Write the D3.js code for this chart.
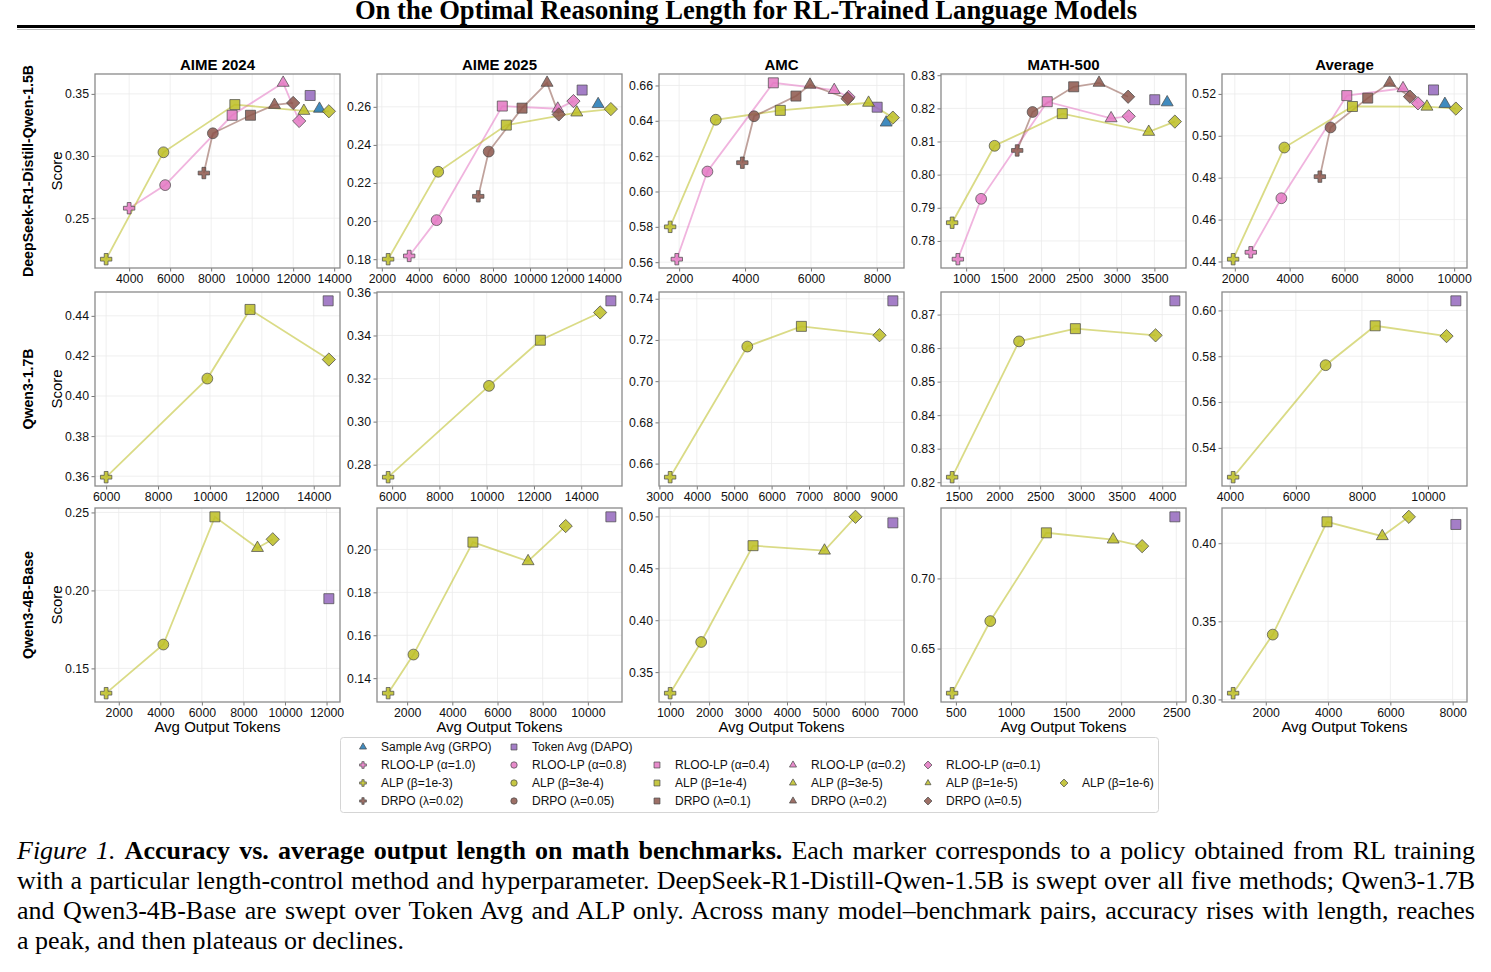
<!DOCTYPE html>
<html>
<head>
<meta charset="utf-8">
<script src="https://cdn.jsdelivr.net/npm/d3@7"></script>
<style>
body { margin: 0; background: #fff; }
#chart { position: absolute; left: 0; top: 0; }
#cap { position: absolute; left: 17px; top: 836px; width: 1458px;
  font-family: "Liberation Serif", "Times New Roman", serif; font-size: 26px; line-height: 30px; color: #000; }
#cap div { white-space: nowrap; }
</style>
</head>
<body>
<svg id="chart" width="1491" height="972"></svg>
<div id="cap">
  <div><span class="ln"><i>Figure 1.</i> <b>Accuracy vs. average output length on math benchmarks.</b> Each marker corresponds to a policy obtained from RL training</span></div>
  <div><span class="ln">with a particular length-control method and hyperparameter. DeepSeek-R1-Distill-Qwen-1.5B is swept over all five methods; Qwen3-1.7B</span></div>
  <div><span class="ln">and Qwen3-4B-Base are swept over Token Avg and ALP only. Across many model–benchmark pairs, accuracy rises with length, reaches</span></div>
  <div><span>a peak, and then plateaus or declines.</span></div>
</div>
<script>
const benchmarks = ["AIME 2024", "AIME 2025", "AMC", "MATH-500", "Average"];
const models = ["DeepSeek-R1-Distill-Qwen-1.5B", "Qwen3-1.7B", "Qwen3-4B-Base"];

// [method, avg output tokens, score]
const ds_aime24 = [["grpo",13283,0.338],["dapo",12829,0.3487],
  ["rloo10",4000,0.258],["rloo08",5756,0.2766],["rloo04",9024,0.3328],["rloo02",11512,0.3589],["rloo01",12293,0.3282],
  ["alp1e3",2878,0.217],["alp3e4",5673,0.303],["alp1e4",9156,0.3414],["alp3e5",12522,0.3363],["alp1e6",13741,0.336],
  ["drpo002",7644,0.2863],["drpo005",8083,0.3183],["drpo01",9918,0.3328],["drpo02",11090,0.3411],["drpo05",12000,0.3427]];
const ds_aime25 = [["grpo",13676,0.2614],["dapo",12811,0.2688],
  ["rloo10",3477,0.1817],["rloo08",4957,0.2005],["rloo04",8503,0.2604],["rloo02",11497,0.259],["rloo01",12342,0.263],
  ["alp1e3",2341,0.18],["alp3e4",5043,0.2259],["alp1e4",8719,0.2504],["alp3e5",12523,0.257],["alp1e6",14362,0.2588],
  ["drpo002",7205,0.213],["drpo005",7768,0.2365],["drpo01",9568,0.2593],["drpo02",10919,0.2726],["drpo05",11551,0.256]];
const ds_amc = [["grpo",8282,0.639],["dapo",8009,0.6477],
  ["rloo10",1929,0.5617],["rloo08",2858,0.6113],["rloo04",4858,0.6615],["rloo02",6706,0.6574],["rloo01",7140,0.6535],
  ["alp1e3",1727,0.58],["alp3e4",3112,0.6406],["alp1e4",5070,0.6459],["alp3e5",7748,0.6502],["alp1e6",8485,0.6418],
  ["drpo002",3918,0.6163],["drpo005",4273,0.6426],["drpo01",5545,0.654],["drpo02",5970,0.6604],["drpo05",7112,0.6525]];
const ds_math = [["grpo",3670,0.8218],["dapo",3505,0.8226],
  ["rloo10",890,0.7745],["rloo08",1199,0.7927],["rloo04",2077,0.822],["rloo02",2925,0.817],["rloo01",3159,0.8176],
  ["alp1e3",814,0.7855],["alp3e4",1378,0.8087],["alp1e4",2277,0.8184],["alp3e5",3425,0.8129],["alp1e6",3772,0.816],
  ["drpo002",1678,0.8073],["drpo005",1882,0.8189],["drpo01",2428,0.8265],["drpo02",2765,0.8277],["drpo05",3151,0.8235]];
const ds_avg = [["grpo",9662,0.5152],["dapo",9247,0.5219],
  ["rloo10",2582,0.4444],["rloo08",3698,0.4702],["rloo04",6084,0.5192],["rloo02",8135,0.5227],["rloo01",8680,0.5155],
  ["alp1e3",1939,0.4411],["alp3e4",3807,0.4944],["alp1e4",6291,0.514],["alp3e5",9007,0.5139],["alp1e6",10062,0.513],
  ["drpo002",5102,0.4805],["drpo005",5491,0.504],["drpo01",6847,0.518],["drpo02",7647,0.5253],["drpo05",8389,0.5187]];

const q17_aime24 = [["dapo",14556,0.4475],["alp1e3",6000,0.3595],["alp3e4",9900,0.4087],["alp1e4",11545,0.4432],["alp1e6",14583,0.4182]];
const q17_aime25 = [["dapo",15254,0.3561],["alp1e3",5830,0.2742],["alp3e4",10097,0.3166],["alp1e4",12271,0.3378],["alp1e6",14800,0.3507]];
const q17_amc = [["dapo",9243,0.739],["alp1e3",3287,0.6534],["alp3e4",5350,0.7168],["alp1e4",6797,0.7266],["alp1e6",8886,0.7223]];
const q17_math = [["dapo",4155,0.8741],["alp1e3",1419,0.8215],["alp3e4",2241,0.862],["alp1e4",2933,0.8658],["alp1e6",3918,0.8638]];
const q17_avg = [["dapo",10846,0.6042],["alp1e3",4100,0.5272],["alp3e4",6901,0.5761],["alp1e4",8402,0.5933],["alp1e6",10563,0.5888]];

const q4_aime24 = [["dapo",12111,0.1947],["alp1e3",1393,0.1341],["alp3e4",4145,0.1653],["alp1e4",6627,0.2472],["alp3e5",8675,0.2272],["alp1e6",9410,0.2328]];
const q4_aime25 = [["dapo",11018,0.2152],["alp1e3",1159,0.133],["alp3e4",2279,0.151],["alp1e4",4912,0.2034],["alp3e5",7354,0.1945],["alp1e6",9018,0.2109]];
const q4_amc = [["dapo",6719,0.4938],["alp1e3",1000,0.3297],["alp3e4",1797,0.379],["alp1e4",3129,0.4718],["alp3e5",4963,0.467],["alp1e6",5760,0.4996]];
const q4_math = [["dapo",2487,0.7439],["alp1e3",466,0.6182],["alp3e4",812,0.6696],["alp1e4",1321,0.7325],["alp3e5",1927,0.7277],["alp1e6",2190,0.723]];
const q4_avg = [["dapo",8103,0.412],["alp1e3",952,0.304],["alp3e4",2224,0.3415],["alp1e4",3965,0.4137],["alp3e5",5740,0.4045],["alp1e6",6593,0.4169]];

// tick values per panel
const ds_xticks = [[4000,6000,8000,10000,12000,14000],[2000,4000,6000,8000,10000,12000,14000],[2000,4000,6000,8000],[1000,1500,2000,2500,3000,3500],[2000,4000,6000,8000,10000]];
const ds_yticks = [[0.25,0.30,0.35],[0.18,0.20,0.22,0.24,0.26],[0.56,0.58,0.60,0.62,0.64,0.66],[0.78,0.79,0.80,0.81,0.82,0.83],[0.44,0.46,0.48,0.50,0.52]];
const q17_xticks = [[6000,8000,10000,12000,14000],[6000,8000,10000,12000,14000],[3000,4000,5000,6000,7000,8000,9000],[1500,2000,2500,3000,3500,4000],[4000,6000,8000,10000]];
const q17_yticks = [[0.36,0.38,0.40,0.42,0.44],[0.28,0.30,0.32,0.34,0.36],[0.66,0.68,0.70,0.72,0.74],[0.82,0.83,0.84,0.85,0.86,0.87],[0.54,0.56,0.58,0.60]];
const q4_xticks = [[2000,4000,6000,8000,10000,12000],[2000,4000,6000,8000,10000],[1000,2000,3000,4000,5000,6000,7000],[500,1000,1500,2000,2500],[2000,4000,6000,8000]];
const q4_yticks = [[0.15,0.20,0.25],[0.14,0.16,0.18,0.20],[0.35,0.40,0.45,0.50],[0.65,0.70],[0.30,0.35,0.40]];

const methods = [
  {key:"grpo", label:"Sample Avg (GRPO)", fam:"grpo", shape:"triangle", color:"#1f77b4", row:0, col:0},
  {key:"dapo", label:"Token Avg (DAPO)", fam:"dapo", shape:"square", color:"#9467bd", row:0, col:1},
  {key:"rloo10", label:"RLOO-LP (α=1.0)", fam:"rloo", shape:"plus", color:"#e377c2", row:1, col:0},
  {key:"rloo08", label:"RLOO-LP (α=0.8)", fam:"rloo", shape:"circle", color:"#e377c2", row:1, col:1},
  {key:"rloo04", label:"RLOO-LP (α=0.4)", fam:"rloo", shape:"square", color:"#e377c2", row:1, col:2},
  {key:"rloo02", label:"RLOO-LP (α=0.2)", fam:"rloo", shape:"triangle", color:"#e377c2", row:1, col:3},
  {key:"rloo01", label:"RLOO-LP (α=0.1)", fam:"rloo", shape:"diamond", color:"#e377c2", row:1, col:4},
  {key:"alp1e3", label:"ALP (β=1e-3)", fam:"alp", shape:"plus", color:"#bcbd22", row:2, col:0},
  {key:"alp3e4", label:"ALP (β=3e-4)", fam:"alp", shape:"circle", color:"#bcbd22", row:2, col:1},
  {key:"alp1e4", label:"ALP (β=1e-4)", fam:"alp", shape:"square", color:"#bcbd22", row:2, col:2},
  {key:"alp3e5", label:"ALP (β=3e-5)", fam:"alp", shape:"triangle", color:"#bcbd22", row:2, col:3},
  {key:"alp1e5", label:"ALP (β=1e-5)", fam:"alp", shape:"triangle", color:"#bcbd22", row:2, col:4, small:true},
  {key:"alp1e6", label:"ALP (β=1e-6)", fam:"alp", shape:"diamond", color:"#bcbd22", row:2, col:5},
  {key:"drpo002", label:"DRPO (λ=0.02)", fam:"drpo", shape:"plus", color:"#8c564b", row:3, col:0},
  {key:"drpo005", label:"DRPO (λ=0.05)", fam:"drpo", shape:"circle", color:"#8c564b", row:3, col:1},
  {key:"drpo01", label:"DRPO (λ=0.1)", fam:"drpo", shape:"square", color:"#8c564b", row:3, col:2},
  {key:"drpo02", label:"DRPO (λ=0.2)", fam:"drpo", shape:"triangle", color:"#8c564b", row:3, col:3},
  {key:"drpo05", label:"DRPO (λ=0.5)", fam:"drpo", shape:"diamond", color:"#8c564b", row:3, col:4}
];
const lineFams = ["rloo", "alp", "drpo"];

const rowsData = [[ds_aime24, ds_aime25, ds_amc, ds_math, ds_avg],
                  [q17_aime24, q17_aime25, q17_amc, q17_math, q17_avg],
                  [q4_aime24, q4_aime25, q4_amc, q4_math, q4_avg]];
const rowsXT = [ds_xticks, q17_xticks, q4_xticks];
const rowsYT = [ds_yticks, q17_yticks, q4_yticks];

const sans = '"Liberation Sans", Arial, Helvetica, sans-serif';
const panelX = [95, 377, 659, 941, 1222], panelW = 245;
const panelY = [74, 292, 508], panelH = 194;
const byKey = {};
methods.forEach((m, i) => { byKey[m.key] = m; m.idx = i; });

const svg = d3.select("#chart");

// title + rule
svg.append("text").attr("x", 746).attr("y", 18.5).attr("text-anchor", "middle")
  .attr("font-family", '"Liberation Serif", "Times New Roman", serif').attr("font-weight", "bold")
  .attr("font-size", 26.6).text("On the Optimal Reasoning Length for RL-Trained Language Models");
svg.append("line").attr("x1", 17).attr("x2", 1475).attr("y1", 26.5).attr("y2", 26.5)
  .attr("stroke", "#000").attr("stroke-width", 3);
svg.append("line").attr("x1", 17).attr("x2", 1475).attr("y1", 29.5).attr("y2", 29.5)
  .attr("stroke", "#bbb").attr("stroke-width", 1);

function symbolPath(shape, k) {
  k = k || 1;
  if (shape === "circle") return d3.symbol(d3.symbolCircle, 92 * k)();
  if (shape === "square") return d3.symbol(d3.symbolSquare, 100 * k)();
  if (shape === "triangle") return d3.symbol(d3.symbolTriangle, 62 * k)();
  if (shape === "plus") return d3.symbol(d3.symbolCross, 72 * k)();
  if (shape === "diamond") return d3.symbol(d3.symbolSquare, 88 * k)();
}
function drawMarker(g, m, x, y, k) {
  g.append("path")
    .attr("d", symbolPath(m.shape, k))
    .attr("transform", "translate(" + x + "," + y + ")" + (m.shape === "diamond" ? " rotate(45)" : ""))
    .attr("fill", m.color).attr("fill-opacity", 0.85)
    .attr("stroke", "#4a4a4a").attr("stroke-width", 0.8).attr("stroke-opacity", 0.9);
}

rowsData.forEach((row, r) => {
  row.forEach((data, c) => {
    const x0 = panelX[c], y0 = panelY[r];
    const g = svg.append("g").attr("transform", "translate(" + x0 + "," + y0 + ")");
    const xe = d3.extent(data, d => d[1]), ye = d3.extent(data, d => d[2]);
    const xp = (xe[1] - xe[0]) * 0.05, yp = (ye[1] - ye[0]) * 0.05;
    const x = d3.scaleLinear().domain([xe[0] - xp, xe[1] + xp]).range([0, panelW]);
    const y = d3.scaleLinear().domain([ye[0] - yp, ye[1] + yp]).range([panelH, 0]);
    const xt = rowsXT[r][c], yt = rowsYT[r][c];

    // grid
    g.append("g").selectAll("line").data(xt).join("line")
      .attr("x1", d => x(d)).attr("x2", d => x(d)).attr("y1", 0).attr("y2", panelH)
      .attr("stroke", "#ebebeb").attr("stroke-width", 0.8);
    g.append("g").selectAll("line").data(yt).join("line")
      .attr("y1", d => y(d)).attr("y2", d => y(d)).attr("x1", 0).attr("x2", panelW)
      .attr("stroke", "#ebebeb").attr("stroke-width", 0.8);

    // axes
    const xa = g.append("g").attr("transform", "translate(0," + panelH + ")")
      .call(d3.axisBottom(x).tickValues(xt).tickFormat(d3.format("d")).tickSize(3.5).tickPadding(3));
    const ya = g.append("g")
      .call(d3.axisLeft(y).tickValues(yt).tickFormat(d3.format(".2f")).tickSize(3.5).tickPadding(2.5));
    [xa, ya].forEach(a => {
      a.select(".domain").remove();
      a.selectAll("line").attr("stroke", "#555").attr("stroke-width", 0.8);
      a.selectAll("text").attr("font-family", sans).attr("font-size", 12.3).attr("fill", "#111");
    });

    // family lines
    lineFams.forEach(f => {
      const pts = methods.filter(m => m.fam === f)
        .map(m => data.find(d => d[0] === m.key)).filter(d => d);
      if (pts.length < 2) return;
      g.append("path").datum(pts)
        .attr("d", d3.line().x(d => x(d[1])).y(d => y(d[2])))
        .attr("fill", "none").attr("stroke", byKey[pts[0][0]].color)
        .attr("stroke-opacity", 0.55).attr("stroke-width", 1.8);
    });

    // markers
    const sorted = data.slice().sort((a, b) => byKey[a[0]].idx - byKey[b[0]].idx);
    sorted.forEach(d => drawMarker(g, byKey[d[0]], x(d[1]), y(d[2]), 1));

    // frame
    g.append("rect").attr("width", panelW).attr("height", panelH)
      .attr("fill", "none").attr("stroke", "#8a8a8a").attr("stroke-width", 1.3);

    if (r === 0) {
      g.append("text").attr("x", panelW / 2).attr("y", -4).attr("text-anchor", "middle")
        .attr("font-family", sans).attr("font-weight", "bold").attr("font-size", 15).text(benchmarks[c]);
    }
    if (r === 2) {
      g.append("text").attr("x", panelW / 2).attr("y", panelH + 30).attr("text-anchor", "middle")
        .attr("font-family", sans).attr("font-size", 15).text("Avg Output Tokens");
    }
    if (c === 0) {
      g.append("text").attr("transform", "translate(-33," + panelH / 2 + ") rotate(-90)")
        .attr("text-anchor", "middle").attr("font-family", sans).attr("font-size", 15).text("Score");
      g.append("text").attr("transform", "translate(-62," + panelH / 2 + ") rotate(-90)")
        .attr("text-anchor", "middle").attr("font-family", sans).attr("font-weight", "bold")
        .attr("font-size", 14.2).text(models[r]);
    }
  });
});

// legend
const legX = [363, 514, 657, 793, 928, 1064], legY = [747, 765, 783, 801];
const lg = svg.append("g");
lg.append("rect").attr("x", 340.5).attr("y", 737.5).attr("width", 818).attr("height", 75).attr("rx", 3)
  .attr("fill", "#fff").attr("stroke", "#d5d5d5").attr("stroke-width", 1);
methods.forEach(m => {
  drawMarker(lg, m, legX[m.col], legY[m.row], m.small ? 0.25 : 0.35);
  lg.append("text").attr("x", legX[m.col] + 18).attr("y", legY[m.row]).attr("dy", "0.35em")
    .attr("font-family", sans).attr("font-size", 12).attr("fill", "#111").text(m.label);
});

// justify caption lines by spreading word spacing
document.querySelectorAll("#cap .ln").forEach(el => {
  const w = el.getBoundingClientRect().width;
  const gaps = (el.textContent.match(/ /g) || []).length;
  if (gaps > 0) el.style.wordSpacing = ((1458 - w) / gaps) + "px";
});
</script>
</body>
</html>
